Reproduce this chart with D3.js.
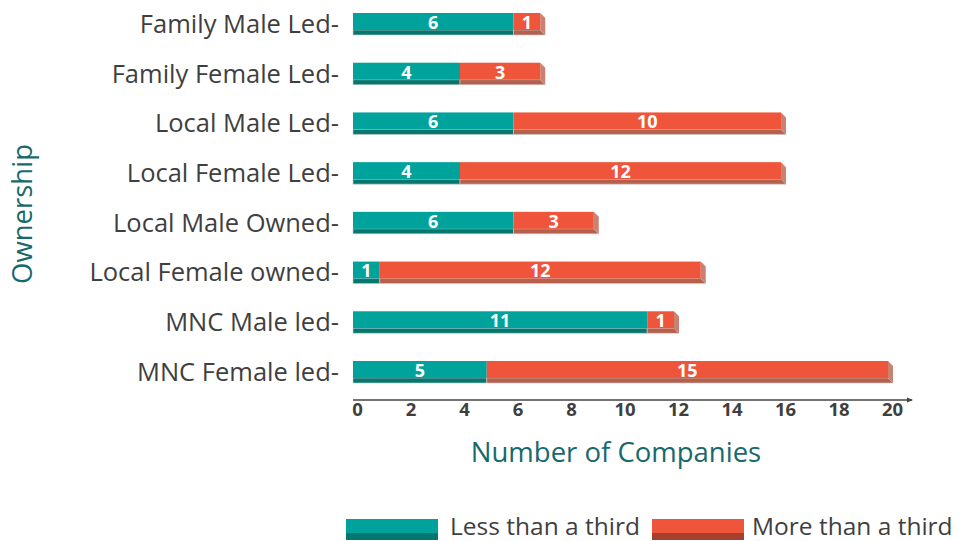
<!DOCTYPE html>
<html>
<head>
<meta charset="utf-8">
<script src="https://cdn.jsdelivr.net/npm/d3@7"></script>
<style>
  body { margin: 0; background: #fff; }
  text { font-family: "Open Sans", sans-serif; }
</style>
</head>
<body>
<div id="chart"></div>
<script>
// categories, top to bottom
var categories = ["Family Male Led", "Family Female Led", "Local Male Led", "Local Female Led",
  "Local Male Owned", "Local Female owned", "MNC Male led", "MNC Female led"];
var lessThird = [6, 4, 6, 4, 6, 1, 11, 5];
var moreThird = [1, 3, 10, 12, 3, 12, 1, 15];
var seriesNames = ["Less than a third", "More than a third"];
var xTicks = [0, 2, 4, 6, 8, 10, 12, 14, 16, 18, 20];

var cfg = {
  w: 965, h: 541,
  face: 17, strip: 5, depth: 5,
  teal: "#00a39b", tealDark: "#06776f",
  red: "#ee553b", redDark: "#b55f4c", redSide: "#c98172",
  textColor: "#3f3f3f", titleColor: "#17696b"
};

var svg = d3.select("#chart").append("svg")
  .attr("width", cfg.w).attr("height", cfg.h);

var x = d3.scaleLinear().domain([0, 20]).range([357, 892]);
var y = d3.scalePoint().domain(categories).range([24, 372]);

// stacked rows
var rows = categories.map(function(c, i) {
  return [
    {cat: c, key: 0, x0: 0, x1: lessThird[i], v: lessThird[i]},
    {cat: c, key: 1, x0: lessThird[i], x1: lessThird[i] + moreThird[i], v: moreThird[i]}
  ];
});

var barH = cfg.face + cfg.strip;

var rowG = svg.selectAll(".row").data(rows).enter().append("g")
  .attr("class", "row")
  .attr("transform", function(d) { return "translate(-4," + (y(d[0].cat) - barH / 2) + ")"; });

var seg = rowG.selectAll(".seg").data(function(d) { return d; }).enter().append("g").attr("class", "seg");

// bottom strip (darker)
seg.append("path")
  .attr("d", function(d) {
    var a = x(d.x0), b = x(d.x1);
    var e = d.key === 1 ? cfg.depth : 0;
    return "M" + a + "," + cfg.face + "L" + b + "," + cfg.face + "L" + (b + e) + "," + barH +
      "L" + a + "," + barH + "Z";
  })
  .style("fill", function(d) { return d.key === 0 ? cfg.tealDark : cfg.redDark; })
  .style("stroke", "#cfcfcf").style("stroke-width", 0.6);

// side face on the end of the bar
seg.filter(function(d) { return d.key === 1; }).append("path")
  .attr("d", function(d) {
    var b = x(d.x1);
    return "M" + b + ",0L" + (b + cfg.depth) + "," + cfg.depth + "L" + (b + cfg.depth) + "," + barH +
      "L" + b + "," + cfg.face + "Z";
  })
  .style("fill", cfg.redSide);

// front face
seg.append("rect")
  .attr("x", function(d) { return x(d.x0); })
  .attr("width", function(d) { return x(d.x1) - x(d.x0); })
  .attr("y", 0).attr("height", cfg.face)
  .style("fill", function(d) { return d.key === 0 ? cfg.teal : cfg.red; });

// value labels
seg.append("text")
  .attr("x", function(d) { return (x(d.x0) + x(d.x1)) / 2; })
  .attr("y", cfg.face / 2 + 1)
  .attr("dy", "0.35em")
  .attr("text-anchor", "middle")
  .style("fill", "#fff").style("font-weight", 700).style("font-size", "18px")
  .text(function(d) { return d.v; });

// y axis labels
svg.append("g").selectAll("text").data(categories).enter().append("text")
  .attr("x", 339).attr("y", function(d) { return y(d); })
  .attr("dy", "0.35em").attr("text-anchor", "end")
  .style("font-size", "25.5px").style("fill", cfg.textColor)
  .text(function(d) { return d + "-"; });

// x axis
var xAxis = d3.axisBottom(x).tickValues(xTicks).tickSize(0).tickPadding(3);
var axG = svg.append("g").attr("transform", "translate(0,400)").call(xAxis);
axG.select(".domain").remove();
axG.selectAll("text")
  .style("font-family", "'Open Sans', sans-serif")
  .style("font-size", "18.5px").style("font-weight", 700).style("fill", cfg.textColor);
axG.append("line").attr("x1", 353).attr("x2", 912).attr("y1", 0).attr("y2", 0)
  .style("stroke", "#444").style("stroke-width", 1.6);
axG.append("path").attr("d", "M913,0L907,-2.5L907,2.5Z").style("fill", "#444");

// axis titles
svg.append("text").attr("x", 616).attr("y", 452).attr("dy", "0.35em")
  .attr("text-anchor", "middle")
  .style("font-size", "27.5px").style("fill", cfg.titleColor)
  .text("Number of Companies");

svg.append("text").attr("transform", "translate(22,214) rotate(-90)")
  .attr("dy", "0.35em").attr("text-anchor", "middle")
  .style("font-size", "27.5px").style("fill", cfg.titleColor)
  .text("Ownership");

// legend
var legend = svg.append("g").attr("transform", "translate(0,519)");
var legX = [346, 652];
var legItem = legend.selectAll(".leg").data(seriesNames).enter().append("g")
  .attr("transform", function(d, i) { return "translate(" + legX[i] + ",0)"; });
legItem.append("rect").attr("width", 92).attr("height", 21)
  .style("fill", function(d, i) { return i === 0 ? cfg.tealDark : "#a5402f"; });
legItem.append("rect").attr("width", 92).attr("height", 14)
  .style("fill", function(d, i) { return i === 0 ? cfg.teal : cfg.red; });
legItem.append("text").attr("x", function(d, i) { return i === 0 ? 104 : 100; })
  .attr("y", 7).attr("dy", "0.35em")
  .style("font-size", "24.5px").style("fill", cfg.textColor)
  .text(function(d) { return d; });
</script>
</body>
</html>
